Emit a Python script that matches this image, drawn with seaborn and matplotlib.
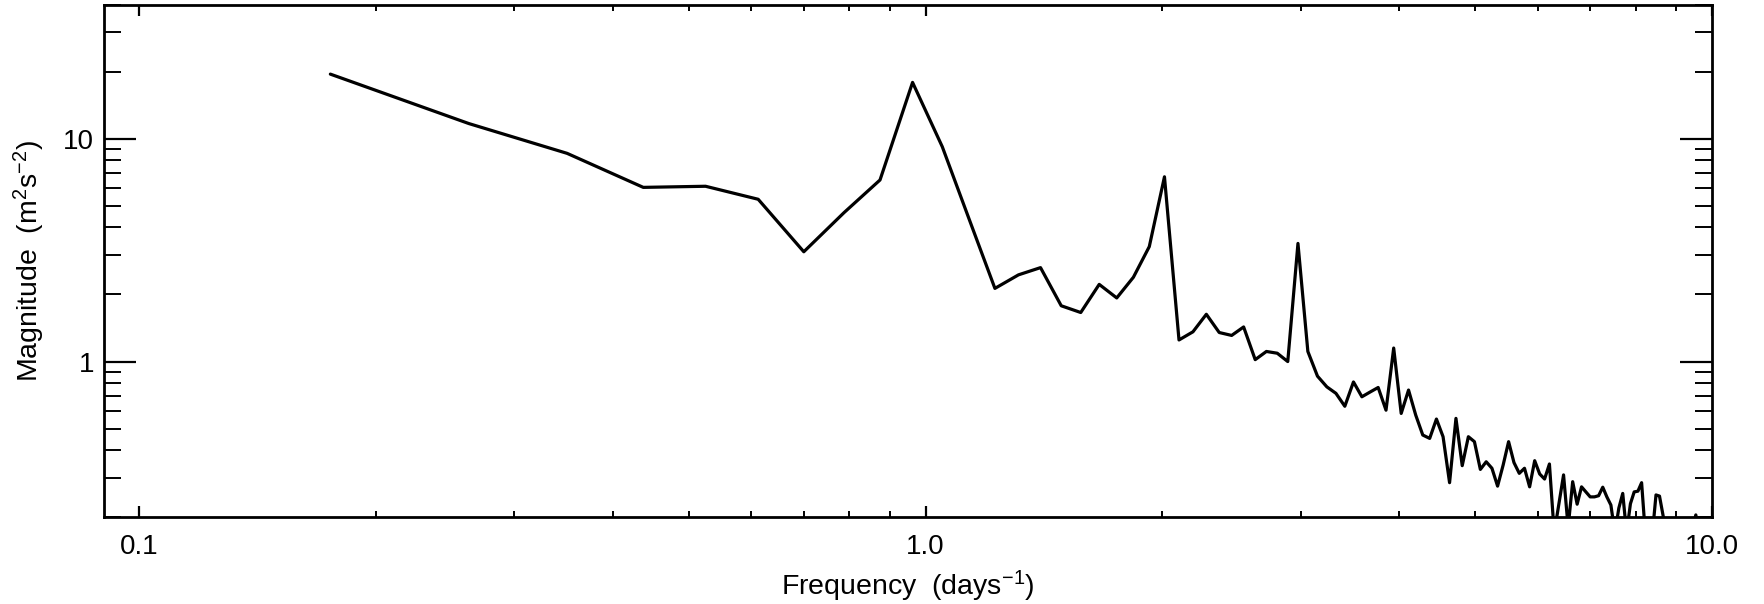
import matplotlib
matplotlib.use("Agg")
import matplotlib.pyplot as plt
from matplotlib.ticker import FixedLocator, FixedFormatter, LogLocator, NullFormatter
import seaborn as sns
import pandas as pd

# Spectrum of the acceleration record: frequency bins (days^-1) and magnitude (m^2 s^-2)
frequency = [
    0.175, 0.2625, 0.35, 0.4375, 0.525, 0.6125, 0.7, 0.7875, 0.875, 0.9625,
    1.05, 1.1375, 1.225, 1.3125, 1.4, 1.4875, 1.575, 1.6625, 1.75, 1.8375,
    1.925, 2.0125, 2.1, 2.1875, 2.275, 2.3625, 2.45, 2.5375, 2.625, 2.7125,
    2.8, 2.8875, 2.975, 3.0625, 3.15, 3.2375, 3.325, 3.4125, 3.5, 3.5875,
    3.675, 3.7625, 3.85, 3.9375, 4.025, 4.1125, 4.2, 4.2875, 4.375, 4.4625,
    4.55, 4.6375, 4.725, 4.8125, 4.9, 4.9875, 5.075, 5.1625, 5.25, 5.3375,
    5.425, 5.5125, 5.6, 5.6875, 5.775, 5.8625, 5.95, 6.0375, 6.125, 6.2125,
    6.3, 6.3875, 6.475, 6.5625, 6.65, 6.7375, 6.825, 6.9125, 7.0, 7.0875,
    7.175, 7.2625, 7.35, 7.4375, 7.525, 7.6125, 7.7, 7.7875, 7.875, 7.9625,
    8.05, 8.1375, 8.225, 8.3125, 8.4, 8.4875, 8.575, 8.6625, 8.75, 8.8375,
    8.925, 9.0125, 9.1, 9.1875, 9.275, 9.3625, 9.45, 9.5375, 9.625,
]
magnitude = [
    19.5, 11.7, 8.6, 6.05, 6.12, 5.35, 3.11, 4.66, 6.53, 17.9,
    9.21, 4.3, 2.13, 2.45, 2.64, 1.78, 1.66, 2.22, 1.93, 2.39,
    3.28, 6.75, 1.25, 1.36, 1.63, 1.35, 1.31, 1.43, 1.02, 1.11,
    1.09, 1.0, 3.39, 1.11, 0.86, 0.77, 0.72, 0.63, 0.81, 0.695,
    0.73, 0.765, 0.605, 1.15, 0.585, 0.745, 0.575, 0.468, 0.452, 0.552,
    0.46, 0.286, 0.556, 0.341, 0.46, 0.437, 0.328, 0.355, 0.332, 0.276,
    0.343, 0.437, 0.352, 0.315, 0.332, 0.274, 0.359, 0.313, 0.297, 0.347,
    0.17, 0.23, 0.31, 0.18, 0.289, 0.229, 0.274, 0.26, 0.247, 0.247,
    0.25, 0.273, 0.247, 0.227, 0.17, 0.22, 0.256, 0.17, 0.23, 0.26,
    0.262, 0.286, 0.17, 0.16, 0.17, 0.252, 0.249, 0.205, 0.17, 0.16,
    0.17, 0.15, 0.16, 0.17, 0.15, 0.16, 0.18, 0.205, 0.17,
]

x_ticks = [0.1, 1.0, 10.0]
x_tick_labels = ["0.1", "1.0", "10.0"]
y_ticks = [1, 10]
y_tick_labels = ["1", "10"]

sns.set_theme(style="ticks")
plt.rcParams["font.family"] = ["Liberation Sans", "DejaVu Sans"]
plt.rcParams["mathtext.fontset"] = "custom"
plt.rcParams["mathtext.rm"] = "Liberation Sans"
plt.rcParams["mathtext.it"] = "Liberation Sans:italic"
plt.rcParams["mathtext.bf"] = "Liberation Sans:bold"

df = pd.DataFrame({"frequency": frequency, "magnitude": magnitude})

fig = plt.figure(figsize=(17.64, 6.04), dpi=100)
fig.patch.set_facecolor("white")
ax = fig.add_axes([104 / 1764, 1 - 517.3 / 604, (1712 - 104) / 1764, (517.3 - 4.6) / 604])
ax.set_facecolor("white")

sns.lineplot(data=df, x="frequency", y="magnitude", ax=ax, color="black",
             linewidth=2.3, estimator=None, sort=False)

ax.set_xscale("log")
ax.set_yscale("log")
ax.set_xlim(0.0902, 10.0)
ax.set_ylim(0.2, 40.0)

ax.xaxis.set_major_locator(FixedLocator(x_ticks))
ax.xaxis.set_major_formatter(FixedFormatter(x_tick_labels))
ax.xaxis.set_minor_locator(LogLocator(base=10, subs=[2, 3, 4, 5, 6, 7, 8, 9]))
ax.xaxis.set_minor_formatter(NullFormatter())
ax.yaxis.set_major_locator(FixedLocator(y_ticks))
ax.yaxis.set_major_formatter(FixedFormatter(y_tick_labels))
ax.yaxis.set_minor_locator(LogLocator(base=10, subs=[2, 3, 4, 5, 6, 7, 8, 9]))
ax.yaxis.set_minor_formatter(NullFormatter())

for side in ["left", "right", "top", "bottom"]:
    ax.spines[side].set_visible(True)
    ax.spines[side].set_linewidth(2.0)
    ax.spines[side].set_color("black")

ax.tick_params(which="both", direction="in", top=True, right=True,
               color="black", labelcolor="black", labelsize=20)
ax.tick_params(axis="x", which="major", length=7.7, width=1.6, pad=12)
ax.tick_params(axis="x", which="minor", length=4.1, width=1.4)
ax.tick_params(axis="y", which="major", length=23, width=1.6, pad=7)
ax.tick_params(axis="y", which="minor", length=12, width=1.4)

ax.set_xlabel(r"Frequency  (days$^{-1}$)", fontsize=20.5, color="black", labelpad=6)
ax.set_ylabel(r"Magnitude  (m$^{2}$s$^{-2}$)", fontsize=20.5, color="black", labelpad=12)
ax.grid(False)

fig.savefig("out.png", dpi=100, facecolor="white")
